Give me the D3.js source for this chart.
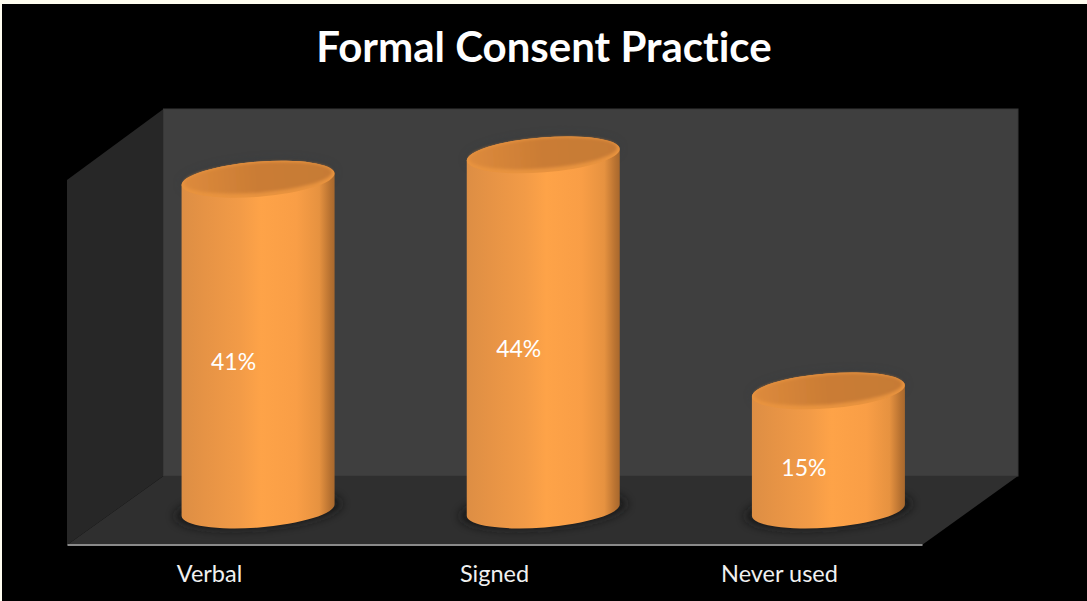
<!DOCTYPE html>
<html><head><meta charset="utf-8">
<script src="https://cdn.jsdelivr.net/npm/d3@7"></script>
<style>html,body{margin:0;padding:0;background:#000;overflow:hidden}svg{display:block}text{font-variant-ligatures:none}</style>
</head><body><svg id="c" width="1087" height="601"></svg>
<script>
const titleText = "Formal Consent Practice";
const categories = ["Verbal", "Signed", "Never used"];
const values = [41, 44, 15];

const W = 1087, H = 601;
const svg = d3.select("#c");
const FONT = "Lato, 'Open Sans', sans-serif";

const defs = svg.append("defs");
const body = defs.append("linearGradient").attr("id", "body").attr("x1", 0).attr("x2", 1).attr("y1", 0).attr("y2", 0);
[[0,"#dd8e44"],[.15,"#e69345"],[.38,"#f29b47"],[.52,"#fea348"],[.75,"#f99e46"],[.9,"#e69240"],[.97,"#b87231"],[1,"#a8682d"]]
  .forEach(d => body.append("stop").attr("offset", d[0]).attr("stop-color", d[1]));
const cap = defs.append("linearGradient").attr("id", "cap").attr("x1", 0).attr("x2", 1).attr("y1", 0).attr("y2", 0);
[[0,"#dd8a3c"],[.5,"#ca7c34"],[1,"#c67a34"]].forEach(d => cap.append("stop").attr("offset", d[0]).attr("stop-color", d[1]));
defs.append("filter").attr("id", "blur6").attr("x", "-30%").attr("y", "-60%").attr("width", "160%").attr("height", "220%")
  .append("feGaussianBlur").attr("stdDeviation", 5);
defs.append("filter").attr("id", "blur2").attr("x", "-10%").attr("y", "-30%").attr("width", "120%").attr("height", "160%")
  .append("feGaussianBlur").attr("stdDeviation", 1.5);

// frame
svg.append("rect").attr("width", W).attr("height", H).attr("fill", "#000");
svg.append("rect").attr("width", W).attr("height", 4).attr("fill", "#fffdf0");
svg.append("rect").attr("width", 2).attr("height", H).attr("fill", "#fffdf0");

// 3D box
const box = { fl: 67, fr: 922, bl: 163.5, br: 1018, top: 109, backBase: 476, frontBase: 545, sideTop: 180 };
const line = d3.line();
svg.append("path").attr("d", line([[box.fl, box.sideTop],[box.bl, box.top],[box.bl, box.backBase],[box.fl, box.frontBase]]) + "Z").attr("fill", "#272727");
svg.append("rect").attr("x", box.bl).attr("y", box.top).attr("width", box.br - box.bl).attr("height", box.backBase - box.top)
  .attr("fill", "#3f3f3f").attr("stroke", "#383838").attr("stroke-width", 1);
svg.append("path").attr("d", line([[box.fl, box.frontBase],[box.bl, box.backBase],[box.br, box.backBase],[box.fr, box.frontBase]]) + "Z").attr("fill", "#2f2f2f");

// scales
const xAxisScale = d3.scaleBand().domain(categories).range([box.fl, box.fr]);
const xBar = d3.scaleBand().domain(categories).range([115.5, 971]);
const y = d3.scaleLinear().domain([0, 50]).range([513, 106]);
const floorY = 510;
const RX = 76.7, RY = 17.5, ROT = -4.5, HW = 76.5, TILT = 6;

const bars = svg.append("g").selectAll("g").data(categories.map((c, i) => ({ c, v: values[i] }))).join("g")
  .attr("transform", d => `translate(${xBar(d.c) + xBar.bandwidth() / 2},0)`);

// floor shadow
bars.append("ellipse").attr("rx", RX + 7).attr("ry", RY + 1).attr("cy", floorY)
  .attr("transform", `rotate(${ROT} 0 ${floorY})`).attr("fill", "#141516").attr("opacity", .85).attr("filter", "url(#blur6)");
// faint halo behind top
bars.append("ellipse").attr("rx", RX).attr("ry", RY).attr("cy", d => y(d.v) - 1)
  .attr("transform", d => `rotate(${ROT} 0 ${y(d.v)})`).attr("fill", "#2c343c").attr("opacity", .35).attr("filter", "url(#blur6)");

// body
bars.append("path").attr("fill", "url(#body)").attr("d", d => {
  const t = y(d.v);
  return `M${-HW},${t + TILT} L${-HW},${floorY + TILT} A${RX},${RY} ${ROT} 0 0 ${HW},${floorY - TILT} L${HW},${t - TILT} A${RX},${RY} ${ROT} 0 0 ${-HW},${t + TILT} Z`;
});
// rim and cap
bars.append("ellipse").attr("rx", RX).attr("ry", RY).attr("cy", d => y(d.v))
  .attr("transform", d => `rotate(${ROT} 0 ${y(d.v)})`).attr("fill", "#e8933f");
bars.append("ellipse").attr("rx", RX - 2.5).attr("ry", RY - 2.5).attr("cy", d => y(d.v) - 1.5)
  .attr("transform", d => `rotate(${ROT} 0 ${y(d.v)})`).attr("fill", "url(#cap)").attr("filter", "url(#blur2)");

// data labels
bars.append("text").attr("x", -24.5).attr("y", d => (y(d.v) + floorY) / 2 + 17).attr("dy", "0.35em")
  .attr("text-anchor", "middle").attr("font-family", FONT).attr("font-size", 23).attr("fill", "#fff")
  .text(d => d.v + "%");

// axis
const ax = svg.append("g").attr("transform", `translate(0,${box.frontBase - 0.5})`)
  .call(d3.axisBottom(xAxisScale).tickSize(0).tickPadding(21));
ax.select(".domain").attr("stroke", "#8a8a8a").attr("stroke-width", 2);
ax.selectAll("text").attr("font-family", FONT).attr("font-size", 23.5).attr("fill", "#f0f0f0");

// title
svg.append("text").attr("x", 544).attr("y", 62).attr("text-anchor", "middle")
  .attr("font-family", FONT).attr("font-weight", 700).attr("font-size", 42).attr("fill", "#fff").text(titleText);
</script></body></html>
